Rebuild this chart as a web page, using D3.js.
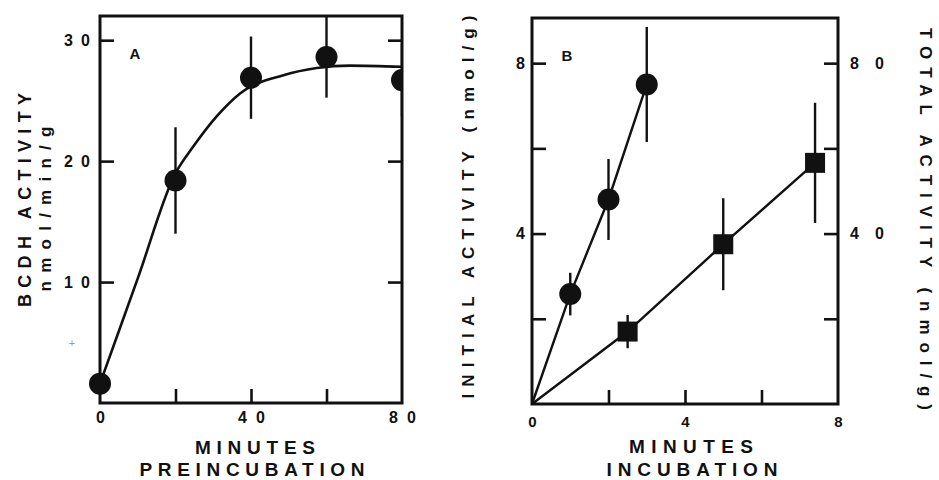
<!DOCTYPE html>
<html>
<head>
<meta charset="utf-8">
<script src="https://cdn.jsdelivr.net/npm/d3@7"></script>
<style>
  html, body { margin: 0; padding: 0; background: #fff; }
  svg { display: block; font-family: "Liberation Sans", Arial, sans-serif; font-weight: bold; }
</style>
</head>
<body>
<svg id="chart" width="939" height="480"></svg>
<script>
// Panel A: BCDH activity after preincubation
const preincMinutes = [0, 20, 40, 60, 80];
const bcdhActivity  = [1.6, 18.4, 26.9, 28.6, 26.7];
const bcdhSE        = [0, 4.4, 3.4, 3.35, 3.0];
// hand-drawn smooth curve through panel A
const curveMinutes  = [0, 10, 20, 24.7, 30.9, 37.1, 48.6, 57.4, 66.2, 80];
const curveActivity = [1.6, 10.3, 19.0, 21.2, 23.7, 25.6, 27.1, 27.7, 27.9, 27.8];
const ticksA_x = [20, 40, 60];
const labelsA_x = [0, 40, 80];
const ticksA_y = [10, 20, 30];

// Panel B: activity vs incubation time
const incubInitial    = [1, 2, 3];
const initialActivity = [2.58, 4.8, 7.5];     // nmol/g, left axis
const initialSE       = [0.5, 0.95, 1.35];
const incubTotal      = [2.5, 5, 7.4];
const totalActivity   = [17, 37.5, 56.6];     // nmol/g, right axis
const totalSE         = [3.9, 10.8, 14.1];
const ticksB_x = [2, 4, 6];
const labelsB_x = [0, 4, 8];
const ticksB_left = [2, 4, 6, 8];
const labelsB_left = [4, 8];
const ticksB_right = [20, 40, 60, 80];
const labelsB_right = [40, 80];

const svg = d3.select("#chart");
const ink = "#111";

// scales
const xA = d3.scaleLinear().domain([0, 80]).range([100, 402]);
const yA = d3.scaleLinear().domain([0, 32]).range([403, 16]);
const xB = d3.scaleLinear().domain([0, 8]).range([532, 838]);
const yBL = d3.scaleLinear().domain([0, 9.06]).range([404, 18]);
const yBR = d3.scaleLinear().domain([0, 90.6]).range([404, 18]);

const defs = svg.append("defs");
function clip(id, x, y) {
  const [x0, x1] = x.range(), [y0, y1] = y.range();
  defs.append("clipPath").attr("id", id).append("rect")
    .attr("x", x0 - 14).attr("y", y1 - 1).attr("width", x1 - x0 + 15).attr("height", y0 - y1 + 14);
}
clip("clipA", xA, yA);
clip("clipB", xB, yBL);

function frame(x, y) {
  const [x0, x1] = x.range(), [y0, y1] = y.range();
  svg.append("rect").attr("x", x0).attr("y", y1).attr("width", x1 - x0).attr("height", y0 - y1)
    .attr("fill", "none").attr("stroke", ink).attr("stroke-width", 3);
}

function styleAxis(g, fontSize, len) {
  g.select(".domain").remove();
  g.selectAll(".tick line").attr("stroke", ink).attr("stroke-width", 2.6);
  g.selectAll(".tick text").attr("fill", ink).attr("font-size", fontSize)
    .attr("font-family", "Liberation Sans, Arial, sans-serif").attr("font-weight", "bold")
    .each(function () {
      const t = d3.select(this);
      if (t.text().length > 1) t.attr("textLength", len).attr("lengthAdjust", "spacing");
    });
}

function fmt(labels) { return d => labels.includes(d) ? String(d) : ""; }

function vText(x, y, angle, str, size, len) {
  svg.append("text").attr("transform", `translate(${x},${y}) rotate(${angle})`)
    .attr("text-anchor", "middle").attr("dy", "0.36em")
    .attr("font-size", size).attr("fill", ink)
    .attr("textLength", len).attr("lengthAdjust", "spacing").text(str);
}
function hText(x, y, str, size, len) {
  svg.append("text").attr("x", x).attr("y", y).attr("text-anchor", "middle").attr("dy", "0.36em")
    .attr("font-size", size).attr("fill", ink)
    .attr("textLength", len).attr("lengthAdjust", "spacing").text(str);
}

// ---------- Panel A ----------
frame(xA, yA);
const [a0, a1] = xA.range(), [ab] = yA.range();

svg.append("g").attr("transform", `translate(${a0},0)`)
  .call(d3.axisLeft(yA).tickValues(ticksA_y).tickSize(-14).tickPadding(10).tickFormat(d => String(d)))
  .call(g => styleAxis(g, 16, 26));
svg.append("g").attr("transform", `translate(${a1},0)`)
  .call(d3.axisRight(yA).tickValues(ticksA_y).tickSize(-14).tickFormat(""))
  .call(g => styleAxis(g, 16, 26));
svg.append("g").attr("transform", `translate(0,${ab})`)
  .call(d3.axisBottom(xA).tickValues([0, ...ticksA_x, 80]).tickSize(0).tickPadding(9).tickFormat(fmt(labelsA_x)))
  .call(g => styleAxis(g, 16, 27));
svg.append("g").attr("transform", `translate(0,${ab})`)
  .call(d3.axisBottom(xA).tickValues(ticksA_x).tickSize(-14).tickFormat(""))
  .call(g => styleAxis(g, 16, 27));

const gA = svg.append("g").attr("clip-path", "url(#clipA)");
gA.append("path")
  .datum(curveMinutes.map((m, i) => [m, curveActivity[i]]))
  .attr("fill", "none").attr("stroke", ink).attr("stroke-width", 2.6)
  .attr("d", d3.line().x(d => xA(d[0])).y(d => yA(d[1])).curve(d3.curveMonotoneX));
gA.selectAll("line.err").data(preincMinutes.map((m, i) => i).filter(i => bcdhSE[i] > 0))
  .join("line").attr("class", "err")
  .attr("x1", i => xA(preincMinutes[i])).attr("x2", i => xA(preincMinutes[i]))
  .attr("y1", i => yA(bcdhActivity[i] + bcdhSE[i])).attr("y2", i => yA(bcdhActivity[i] - bcdhSE[i]))
  .attr("stroke", ink).attr("stroke-width", 2.4);
gA.selectAll("circle").data(preincMinutes)
  .join("circle").attr("cx", m => xA(m)).attr("cy", (m, i) => yA(bcdhActivity[i]))
  .attr("r", 11).attr("fill", ink);

svg.append("text").attr("x", 135).attr("y", 59).attr("text-anchor", "middle")
  .attr("font-size", 15).attr("fill", ink).text("A");
svg.append("text").attr("x", 72).attr("y", 347).attr("text-anchor", "middle")
  .attr("font-size", 11).attr("font-weight", "normal").attr("fill", "#9a9a9a").text("+");

vText(25, 200, -90, "BCDH ACTIVITY", 18, 214);
vText(45, 209, -90, "nmol/min/g", 17, 165);
hText(255, 447, "MINUTES", 19, 120);
hText(252, 469, "PREINCUBATION", 19, 225);

// ---------- Panel B ----------
frame(xB, yBL);
const [b0, b1] = xB.range(), [bb] = yBL.range();

svg.append("g").attr("transform", `translate(${b0},0)`)
  .call(d3.axisLeft(yBL).tickValues(ticksB_left).tickSize(-14).tickPadding(7).tickFormat(fmt(labelsB_left)))
  .call(g => styleAxis(g, 16, 20));
svg.append("g").attr("transform", `translate(${b1},0)`)
  .call(d3.axisRight(yBR).tickValues(ticksB_right).tickSize(-14).tickPadding(12).tickFormat(fmt(labelsB_right)))
  .call(g => styleAxis(g, 16, 34));
svg.append("g").attr("transform", `translate(0,${bb})`)
  .call(d3.axisBottom(xB).tickValues([0, ...ticksB_x, 8]).tickSize(0).tickPadding(12).tickFormat(fmt(labelsB_x)))
  .call(g => styleAxis(g, 15, 20));
svg.append("g").attr("transform", `translate(0,${bb})`)
  .call(d3.axisBottom(xB).tickValues(ticksB_x).tickSize(-14).tickFormat(""))
  .call(g => styleAxis(g, 15, 20));

const gB = svg.append("g").attr("clip-path", "url(#clipB)");
// lines drawn from the origin through each series
gB.append("path")
  .datum([[0, 0], ...incubInitial.map((m, i) => [m, initialActivity[i]])])
  .attr("fill", "none").attr("stroke", ink).attr("stroke-width", 2.4)
  .attr("d", d3.line().x(d => xB(d[0])).y(d => yBL(d[1])));
gB.append("path")
  .datum([[0, 0], ...incubTotal.map((m, i) => [m, totalActivity[i]])])
  .attr("fill", "none").attr("stroke", ink).attr("stroke-width", 2.4)
  .attr("d", d3.line().x(d => xB(d[0])).y(d => yBR(d[1])));

gB.selectAll("line.errI").data(incubInitial).join("line").attr("class", "errI")
  .attr("x1", m => xB(m)).attr("x2", m => xB(m))
  .attr("y1", (m, i) => yBL(initialActivity[i] + initialSE[i]))
  .attr("y2", (m, i) => yBL(initialActivity[i] - initialSE[i]))
  .attr("stroke", ink).attr("stroke-width", 2.4);
gB.selectAll("line.errT").data(incubTotal).join("line").attr("class", "errT")
  .attr("x1", m => xB(m)).attr("x2", m => xB(m))
  .attr("y1", (m, i) => yBR(totalActivity[i] + totalSE[i]))
  .attr("y2", (m, i) => yBR(totalActivity[i] - totalSE[i]))
  .attr("stroke", ink).attr("stroke-width", 2.4);
gB.selectAll("circle").data(incubInitial).join("circle")
  .attr("cx", m => xB(m)).attr("cy", (m, i) => yBL(initialActivity[i]))
  .attr("r", 11).attr("fill", ink);
gB.selectAll("rect.sq").data(incubTotal).join("rect").attr("class", "sq")
  .attr("x", m => xB(m) - 10).attr("y", (m, i) => yBR(totalActivity[i]) - 10)
  .attr("width", 20).attr("height", 20).attr("fill", ink);

svg.append("text").attr("x", 567).attr("y", 61).attr("text-anchor", "middle")
  .attr("font-size", 15).attr("fill", ink).text("B");

vText(468, 207, -90, "INITIAL ACTIVITY (nmol/g)", 17, 383);
vText(926, 219, 90, "TOTAL ACTIVITY (nmol/g)", 17, 382);
hText(691, 446, "MINUTES", 19, 124);
hText(692, 469, "INCUBATION", 19, 171);
</script>
</body>
</html>
